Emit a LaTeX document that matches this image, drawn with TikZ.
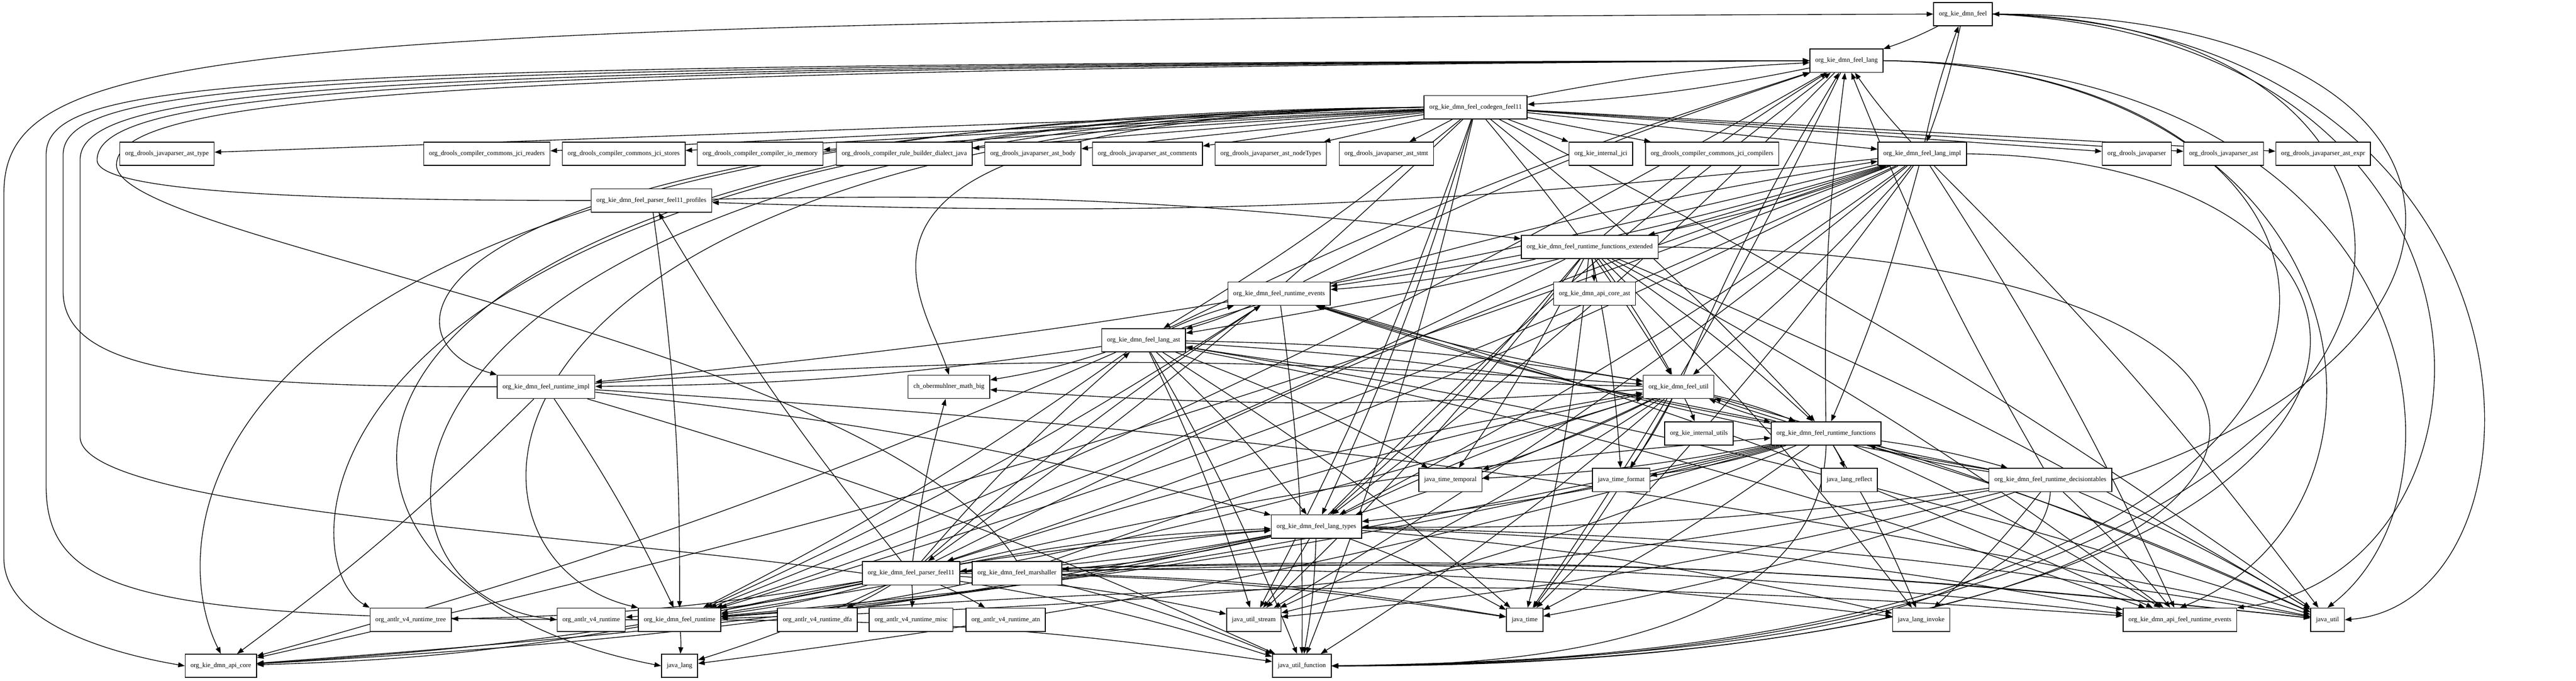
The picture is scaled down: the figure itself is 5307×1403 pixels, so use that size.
\documentclass[tikz,border=0pt]{standalone}
\usepackage{fontspec}
\setmainfont{Liberation Serif}
\usetikzlibrary{arrows.meta,backgrounds}
\begin{document}
\begin{tikzpicture}[x=0.25pt,y=-0.25pt,
  pkg/.style={draw, rectangle, line width=0.42pt, minimum height=12pt, inner xsep=2.75pt, inner ysep=0pt, font=\fontsize{3.375}{3.8}\selectfont, fill=white},
  dep/.style={-{Triangle[length=3.4pt,width=2.5pt]}, line width=0.36pt},
  bidep/.style={{Triangle[length=3.4pt,width=2.5pt]}-{Triangle[length=3.4pt,width=2.5pt]}, line width=0.36pt},
  ]
\useasboundingbox (0,0) rectangle (5307,1403);
% rank 1-3
\node[pkg] (feel) at (4044,29) {org\_kie\_dmn\_feel};
\node[pkg] (lang) at (3804,125) {org\_kie\_dmn\_feel\_lang};
\node[pkg] (codegen) at (3040,221) {org\_kie\_dmn\_feel\_codegen\_feel11};
% rank 4
\node[pkg] (asttype) at (344,317) {org\_drools\_javaparser\_ast\_type};
\node[pkg] (readers) at (1003,317) {org\_drools\_compiler\_commons\_jci\_readers};
\node[pkg] (stores) at (1285,317) {org\_drools\_compiler\_commons\_jci\_stores};
\node[pkg] (memory) at (1566,317) {org\_drools\_compiler\_compiler\_io\_memory};
\node[pkg] (dialect) at (1863,317) {org\_drools\_compiler\_rule\_builder\_dialect\_java};
\node[pkg] (astbody) at (2128,317) {org\_drools\_javaparser\_ast\_body};
\node[pkg] (astcomments) at (2364,317) {org\_drools\_javaparser\_ast\_comments};
\node[pkg] (nodetypes) at (2618,317) {org\_drools\_javaparser\_ast\_nodeTypes};
\node[pkg] (aststmt) at (2856,317) {org\_drools\_javaparser\_ast\_stmt};
\node[pkg] (ijci) at (3298,317) {org\_kie\_internal\_jci};
\node[pkg] (compilers) at (3527,317) {org\_drools\_compiler\_commons\_jci\_compilers};
\node[pkg] (limpl) at (3960,317) {org\_kie\_dmn\_feel\_lang\_impl};
\node[pkg] (jp) at (4402,317) {org\_drools\_javaparser};
\node[pkg] (jpast) at (4581,317) {org\_drools\_javaparser\_ast};
\node[pkg] (jpexpr) at (4786,317) {org\_drools\_javaparser\_ast\_expr};
% rank 5-10
\node[pkg] (profiles) at (1342,413) {org\_kie\_dmn\_feel\_parser\_feel11\_profiles};
\node[pkg] (fext) at (3275,509) {org\_kie\_dmn\_feel\_runtime\_functions\_extended};
\node[pkg] (revents) at (2635,605) {org\_kie\_dmn\_feel\_runtime\_events};
\node[pkg] (apicoreast) at (3285,605) {org\_kie\_dmn\_api\_core\_ast};
\node[pkg] (last) at (2356,701) {org\_kie\_dmn\_feel\_lang\_ast};
\node[pkg] (mathbig) at (1955,797) {ch\_obermuhlner\_math\_big};
\node[pkg] (rimpl) at (1125,797) {org\_kie\_dmn\_feel\_runtime\_impl};
\node[pkg] (futil) at (3458,797) {org\_kie\_dmn\_feel\_util};
\node[pkg] (iutils) at (3500,893) {org\_kie\_internal\_utils};
\node[pkg] (rfun) at (3762,893) {org\_kie\_dmn\_feel\_runtime\_functions};
% rank 11-15
\node[pkg] (temporal) at (2988,989) {java\_time\_temporal};
\node[pkg] (tformat) at (3340,989) {java\_time\_format};
\node[pkg] (reflect) at (3810,989) {java\_lang\_reflect};
\node[pkg] (dtables) at (4224,989) {org\_kie\_dmn\_feel\_runtime\_decisiontables};
\node[pkg] (ltypes) at (2712,1085) {org\_kie\_dmn\_feel\_lang\_types};
\node[pkg] (pfeel) at (1877,1181) {org\_kie\_dmn\_feel\_parser\_feel11};
\node[pkg] (marsh) at (2095,1181) {org\_kie\_dmn\_feel\_marshaller};
\node[pkg] (atree) at (846,1277) {org\_antlr\_v4\_runtime\_tree};
\node[pkg] (aruntime) at (1218,1277) {org\_antlr\_v4\_runtime};
\node[pkg] (frt) at (1400,1277) {org\_kie\_dmn\_feel\_runtime};
\node[pkg] (adfa) at (1684,1277) {org\_antlr\_v4\_runtime\_dfa};
\node[pkg] (amisc) at (1877,1277) {org\_antlr\_v4\_runtime\_misc};
\node[pkg] (aatn) at (2072,1277) {org\_antlr\_v4\_runtime\_atn};
\node[pkg] (ustream) at (2583,1277) {java\_util\_stream};
\node[pkg] (jtime) at (3141,1277) {java\_time};
\node[pkg] (linvoke) at (3958,1277) {java\_lang\_invoke};
\node[pkg] (apievents) at (4491,1277) {org\_kie\_dmn\_api\_feel\_runtime\_events};
\node[pkg] (jutil) at (4795,1277) {java\_util};
\node[pkg] (apicore) at (455,1372) {org\_kie\_dmn\_api\_core};
\node[pkg] (jlang) at (1400,1372) {java\_lang};
\node[pkg] (ufunc) at (2682,1372) {java\_util\_function};

\begin{pgfonlayer}{background}
% codegen fan to rank 4 (straight)
\foreach \t in {asttype,readers,stores,memory,dialect,astbody,astcomments,nodetypes,aststmt,ijci,compilers,limpl,jp,jpast,jpexpr}
  \draw[dep] (codegen) -- (\t);
% right channel
\draw[dep] (feel.east) .. controls (5290,60) and (5290,1240) .. (jutil.east);
\draw[dep] (feel.east) .. controls (5230,80) and (5200,1180) .. (apievents.north east);
\draw[dep] (feel.east) .. controls (5270,40) and (5250,1372) .. (ufunc.east);
\draw[dep] (dtables.east) .. controls (5230,700) and (5150,30) .. (feel.east);
\draw[dep] (lang.east) .. controls (5000,135) and (5120,1000) .. (jutil.north);
\draw[dep] (lang.east) .. controls (4900,140) and (5000,1050) .. (apievents.north);
\draw[dep] (lang.east) .. controls (5060,140) and (5180,1360) .. (ufunc.east);
\draw[dep] (limpl.east) .. controls (5150,330) and (5150,1380) .. (ufunc.east);
\draw[dep] (fext.east) .. controls (5050,520) and (5000,1370) .. (ufunc.east);
\draw[dep] (rfun.south) .. controls (3750,1365) and (3000,1372) .. (ufunc.east);
\draw[dep] (dtables.south) .. controls (4200,1345) and (3100,1365) .. (ufunc.east);
% left channel
\draw[bidep] (feel.west) .. controls (400,40) and (8,110) .. (8,400) -- (8,1150) .. controls (8,1290) and (250,1350) .. (apicore.west);
\draw[dep] (frt.west) .. controls (300,1277) and (95,1230) .. (95,1000) -- (95,320) .. controls (95,160) and (500,132) .. (lang.west);
\draw[dep] (rimpl.west) .. controls (400,797) and (130,760) .. (130,600) -- (130,320) .. controls (130,170) and (600,135) .. (lang.west);
\draw[dep] (pfeel.west) .. controls (1200,1100) and (165,1050) .. (165,900) -- (165,330) .. controls (165,180) and (700,138) .. (lang.west);
\draw[dep] (profiles.west) .. controls (700,413) and (200,400) .. (200,330) .. controls (200,190) and (800,140) .. (lang.west);
\draw[dep] (marsh.north) .. controls (1800,700) and (240,500) .. (240,340) .. controls (240,200) and (900,145) .. (lang.west);
\draw[dep] (codegen.west) .. controls (350,240) and (330,1100) .. (apicore.north);
\draw[dep] (codegen.west) .. controls (480,250) and (470,1200) .. (jlang.west);
\draw[dep] (codegen.west) .. controls (600,250) and (580,1150) .. (atree.north west);
\draw[dep] (codegen.west) .. controls (700,255) and (650,1220) .. (aruntime.west);
\draw[dep] (codegen.west) .. controls (900,260) and (880,1150) .. (frt.north west);
\draw[dep] (codegen.west) .. controls (800,260) and (760,700) .. (rimpl.north west);
\draw[dep] (codegen.west) .. controls (1600,250) and (1900,600) .. (mathbig.north);
% generic edges
\foreach \s/\tl in {
  feel/{lang,limpl},
  lang/{codegen,ltypes,frt,jtime},
  codegen/{lang,last,ltypes,futil,ufunc,ustream,jutil,rfun,pfeel},
  limpl/{feel,lang,last,ltypes,futil,rfun,revents,frt,apievents,jutil,jtime,pfeel,profiles,fext,rimpl,apicore,ustream},
  profiles/{fext,frt},
  fext/{lang,revents,apicoreast,futil,rfun,ltypes,frt,jtime,temporal,tformat,jutil,ustream,linvoke,apievents},
  revents/{lang,last,apievents,frt,ufunc},
  last/{lang,revents,mathbig,futil,ltypes,frt,apicore,ufunc,ustream,jutil,rfun,rimpl,apievents,limpl,jtime,temporal},
  futil/{lang,last,ltypes,mathbig,rfun,frt,temporal,tformat,jtime,jutil,ufunc,ustream,iutils,revents},
  rimpl/{frt,apicore,ufunc,jutil,ltypes,futil},
  rfun/{lang,ltypes,frt,futil,revents,dtables,reflect,linvoke,apievents,jutil,ustream,jtime,temporal,tformat,jlang,apicore},
  dtables/{rfun,lang,ltypes,frt,revents,futil,linvoke,apievents,jutil,ustream,jtime},
  ltypes/{lang,pfeel,marsh,frt,ustream,jtime,ufunc,jutil,linvoke,apievents,apicore,futil},
  pfeel/{last,ltypes,limpl,futil,rfun,profiles,frt,atree,aruntime,adfa,amisc,aatn,ustream,jtime,ufunc,jutil,linvoke,apievents,apicore,jlang,revents,mathbig},
  marsh/{ltypes,frt,ufunc,futil,jtime,jutil},
  frt/{jlang,apicore,ufunc,ltypes,apievents}}
  {\foreach \t in \tl {\draw[dep] (\s) to[bend left=4] (\t);}}
\end{pgfonlayer}
\end{tikzpicture}
\end{document}
